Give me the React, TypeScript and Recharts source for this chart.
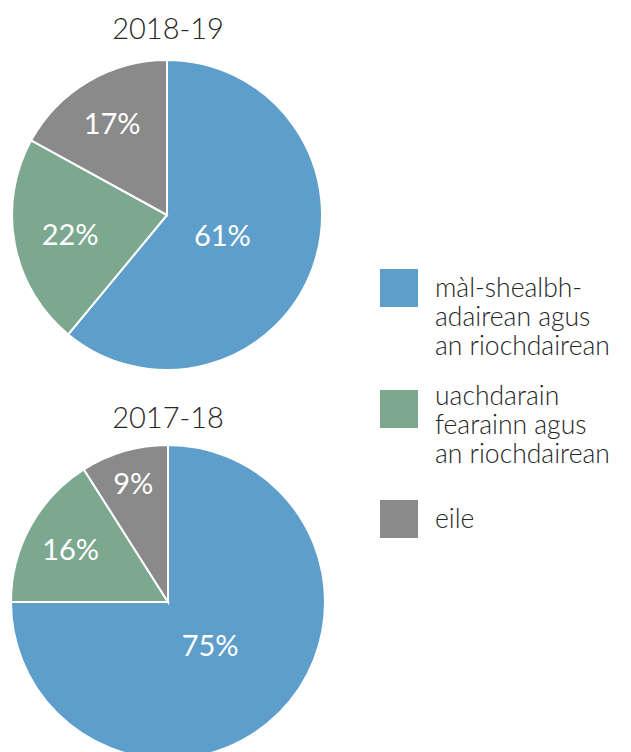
import { Cell, Legend, Pie, PieChart } from "recharts";

const categories = [
  "màl-shealbh-adairean agus an riochdairean",
  "uachdarain fearainn agus an riochdairean",
  "eile",
];
const legendLines = [
  ["màl-shealbh-", "adairean agus", "an riochdairean"],
  ["uachdarain", "fearainn agus", "an riochdairean"],
  ["eile"],
];
const years = ["2018-19", "2017-18"];
const values2018 = [61, 22, 17];
const values2017 = [75, 16, 9];

const colors = ["#5e9ecb", "#7ba88f", "#8a8a8a"];
const FONT = "Lato, 'Open Sans', sans-serif";

const RAD = Math.PI / 180;

const toRows = (vals: number[]) => categories.map((name, i) => ({ name, value: vals[i] }));

const renderLabel = (props: any) => {
  const { cx, cy, midAngle, outerRadius, percent, value } = props;
  const f = Math.max(0.38, 0.9 - 1.2 * percent);
  const r = outerRadius * f;
  const x = cx + r * Math.cos(-midAngle * RAD);
  const y = cy + r * Math.sin(-midAngle * RAD);
  return (
    <text
      x={x}
      y={y}
      fill="#ffffff"
      textAnchor="middle"
      dominantBaseline="central"
      fontSize={29}
      fontWeight={400}
      fontFamily={FONT}
    >
      {`${value}%`}
    </text>
  );
};

// legend rows are not evenly spaced in the source
const legendTops = [269, 381, 500];
const squareOffsets = [0, 9, 0];
const textOffsets = [4, 0, 4];

const LegendBox = () => (
  <div style={{ position: "relative", width: 260, height: 300 }}>
    {legendLines.map((lines, i) => (
      <div
        key={i}
        style={{ position: "absolute", left: 0, top: legendTops[i] - 269, display: "flex" }}
      >
        <div
          style={{
            width: 38,
            height: 38,
            background: colors[i],
            marginTop: squareOffsets[i],
            flexShrink: 0,
          }}
        />
        <div
          style={{
            marginLeft: 17,
            marginTop: textOffsets[i],
            fontFamily: FONT,
            fontWeight: 300,
            fontSize: 26.5,
            lineHeight: "29px",
            color: "#262626",
            whiteSpace: "nowrap",
          }}
        >
          {lines.map((l, j) => (
            <div key={j}>{l}</div>
          ))}
        </div>
      </div>
    ))}
  </div>
);

const titleStyle = (top: number): React.CSSProperties => ({
  position: "absolute",
  left: 68,
  width: 200,
  top,
  textAlign: "center",
  fontFamily: FONT,
  fontWeight: 300,
  fontSize: 29,
  lineHeight: "34px",
  color: "#262626",
});

export default function App() {
  return (
    <div
      style={{
        position: "absolute",
        left: 0,
        top: 0,
        width: 631,
        height: 752,
        overflow: "hidden",
        background: "#ffffff",
      }}
    >
      <div style={titleStyle(11)}>{years[0]}</div>
      <div style={titleStyle(400)}>{years[1]}</div>
      <PieChart
        width={631}
        height={752}
        margin={{ top: 0, right: 0, bottom: 0, left: 0 }}
        style={{ position: "absolute", left: 0, top: 0 }}
      >
        <Pie
          data={toRows(values2018)}
          dataKey="value"
          nameKey="name"
          cx={167}
          cy={215}
          outerRadius={155}
          startAngle={90}
          endAngle={-270}
          stroke="#ffffff"
          strokeWidth={2}
          label={renderLabel}
          labelLine={false}
          isAnimationActive={false}
        >
          {values2018.map((_, i) => (
            <Cell key={i} fill={colors[i]} />
          ))}
        </Pie>
        <Pie
          data={toRows(values2017)}
          dataKey="value"
          nameKey="name"
          cx={168}
          cy={602}
          outerRadius={157}
          startAngle={90}
          endAngle={-270}
          stroke="#ffffff"
          strokeWidth={2}
          label={renderLabel}
          labelLine={false}
          isAnimationActive={false}
        >
          {values2017.map((_, i) => (
            <Cell key={i} fill={colors[i]} />
          ))}
        </Pie>
        <Legend
          content={() => <LegendBox />}
          wrapperStyle={{ position: "absolute", left: 380, top: 269, width: 260 }}
        />
      </PieChart>
    </div>
  );
}
